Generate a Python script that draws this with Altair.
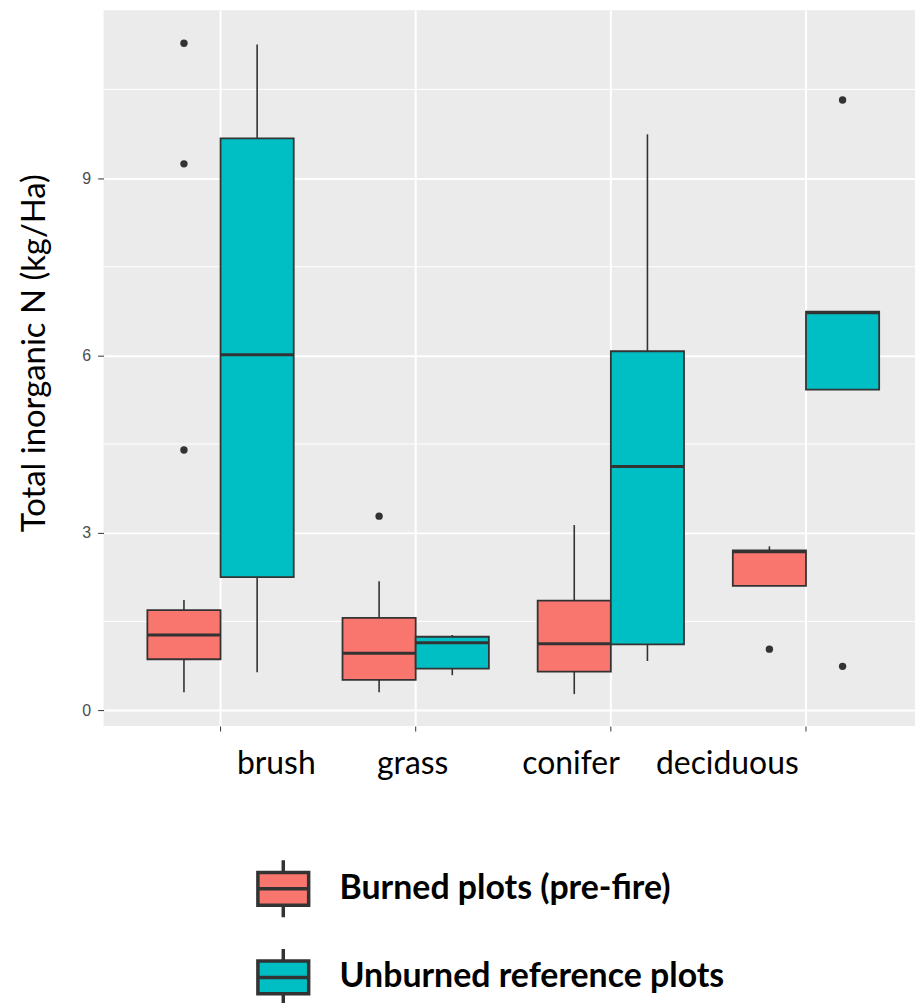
import altair as alt
import pandas as pd

categories = ["brush", "grass", "conifer", "deciduous"]
groups = ["Burned plots (pre-fire)", "Unburned reference plots"]
group_colors = ["#F8766D", "#00BFC4"]

burned_whisker_low = [0.30, 0.30, 0.27, 2.10]
burned_q1 = [0.86, 0.51, 0.65, 2.10]
burned_median = [1.27, 0.96, 1.12, 2.68]
burned_q3 = [1.69, 1.56, 1.85, 2.70]
burned_whisker_high = [1.86, 2.18, 3.13, 2.77]

unburned_whisker_low = [0.64, 0.59, 0.83, 5.42]
unburned_q1 = [2.25, 0.70, 1.11, 5.42]
unburned_median = [6.01, 1.14, 4.12, 6.72]
unburned_q3 = [9.67, 1.24, 6.07, 6.74]
unburned_whisker_high = [11.26, 1.27, 9.74, 6.74]

outlier_category = ["brush", "brush", "brush", "grass", "deciduous", "deciduous", "deciduous"]
outlier_group = [groups[0], groups[0], groups[0], groups[0], groups[0], groups[1], groups[1]]
outlier_value = [11.28, 9.24, 4.40, 3.28, 1.03, 10.32, 0.74]

y_ticks = [0, 3, 6, 9]
y_minor = [1.5, 4.5, 7.5, 10.5]
y_domain = [-0.27, 11.84]
label_shift = [56, -3, -40, -79]

rows = []
for i, c in enumerate(categories):
    rows.append(dict(category=c, group=groups[0], wlo=burned_whisker_low[i], q1=burned_q1[i],
                     med=burned_median[i], q3=burned_q3[i], whi=burned_whisker_high[i]))
    rows.append(dict(category=c, group=groups[1], wlo=unburned_whisker_low[i], q1=unburned_q1[i],
                     med=unburned_median[i], q3=unburned_q3[i], whi=unburned_whisker_high[i]))
stats = pd.DataFrame(rows)
outliers = pd.DataFrame(dict(category=outlier_category, group=outlier_group, value=outlier_value))
minor = pd.DataFrame(dict(v=y_minor))

label_offset = {
    "condition": [
        {"test": f"datum.value == '{c}'", "value": s}
        for c, s in zip(categories[:-1], label_shift[:-1])
    ],
    "value": label_shift[-1],
}

x_axis = alt.Axis(title=None, grid=True, gridColor="white", gridWidth=2, domain=False,
                  tickColor="#333333", tickSize=5, labelFont="Lato", labelFontSize=32,
                  labelColor="black", labelPadding=18, labelAngle=0, labelOffset=label_offset)
x_scale = alt.Scale(paddingInner=0.25, paddingOuter=0.204, align=0.55)
y_scale = alt.Scale(domain=y_domain, nice=False, zero=False)
y_axis = alt.Axis(values=y_ticks, title="Total inorganic N (kg/Ha)", grid=True, gridColor="white",
                  gridWidth=2, domain=False, tickColor="#333333", tickSize=6,
                  labelColor="#4D4D4D", labelFont="Liberation Sans", labelFontSize=16,
                  labelPadding=7, titleFont="Lato", titleFontSize=33, titleFontWeight="normal",
                  titleColor="black", titleX=-69, titleY=344, titleBaseline="middle")

X = alt.X("category:N", sort=categories, scale=x_scale, axis=x_axis)
XO = alt.XOffset("group:N", sort=groups)

box_path = "M-1,-0.647H1V0.647H-1Z M-1,0H1 M0,-0.647V-1.12 M0,0.647V1.12"

minor_layer = alt.Chart(minor).mark_rule(color="white", strokeWidth=1).encode(
    y=alt.Y("v:Q", scale=y_scale, axis=y_axis)
)

whisk_lo = alt.Chart(stats).mark_rule(color="#333333", strokeWidth=1.6).encode(
    x=X, xOffset=XO, y=alt.Y("wlo:Q", scale=y_scale, axis=y_axis), y2="q1:Q"
)
whisk_hi = alt.Chart(stats).mark_rule(color="#333333", strokeWidth=1.6).encode(
    x=X, xOffset=XO, y=alt.Y("q3:Q", scale=y_scale, axis=y_axis), y2="whi:Q"
)
boxes = alt.Chart(stats).mark_bar(stroke="#333333", strokeWidth=1.8).encode(
    x=X, xOffset=XO, y=alt.Y("q1:Q", scale=y_scale, axis=y_axis), y2="q3:Q",
    fill=alt.Fill("group:N", scale=alt.Scale(domain=groups, range=group_colors),
                  legend=alt.Legend(title=None, orient="none", legendX=153, legendY=855,
                                    direction="vertical", symbolType=box_path, symbolSize=2601,
                                    symbolStrokeColor="#333333", symbolStrokeWidth=3.5,
                                    labelFont="Lato", labelFontSize=34, labelFontWeight="bold",
                                    labelColor="black", labelOffset=29, labelLimit=800,
                                    rowPadding=16)),
)
medians = alt.Chart(stats).mark_tick(color="#333333", thickness=3, size=73, opacity=1).encode(
    x=X, xOffset=XO, y=alt.Y("med:Q", scale=y_scale, axis=y_axis)
)
points = alt.Chart(outliers).mark_circle(size=55, color="#333333", opacity=1).encode(
    x=X, xOffset=XO, y=alt.Y("value:Q", scale=y_scale, axis=y_axis)
)

chart = alt.layer(minor_layer, whisk_lo, whisk_hi, boxes, medians, points).properties(
    width=815, height=719,
    autosize=alt.AutoSizeParams(type="none"),
    padding={"left": 96, "top": 0, "right": 0, "bottom": 276},
).configure_view(fill="#EBEBEB", stroke=None)

chart.save("out.html", embed_options={"renderer": "svg", "actions": False})
